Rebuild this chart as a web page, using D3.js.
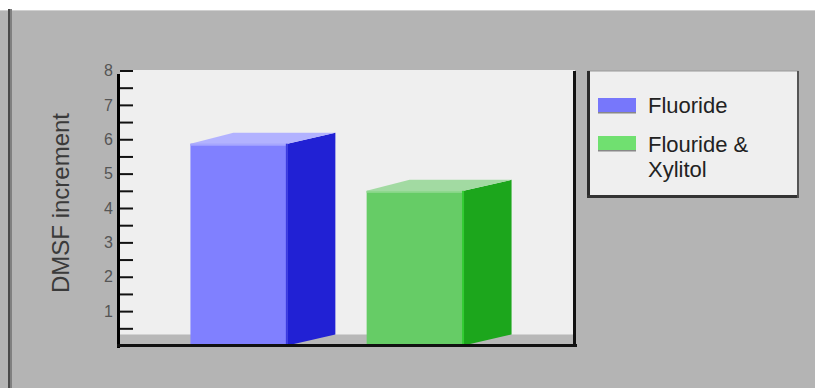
<!DOCTYPE html>
<html><head><meta charset="utf-8">
<script src="https://cdn.jsdelivr.net/npm/d3@7/dist/d3.min.js"></script>
<style>html,body{margin:0;padding:0;background:#fff;overflow:hidden;}svg{display:block;}</style>
</head><body>
<svg id="c" width="815" height="388"></svg>
<script>
const categories = ["Fluoride", "Flouride & Xylitol"];
const values = [5.87, 4.5];
const legendLabels = [["Fluoride"], ["Flouride &", "Xylitol"]];
const tickValues = [0.5,1,1.5,2,2.5,3,3.5,4,4.5,5,5.5,6,6.5,7,7.5,8];
const tickLabels = ["1","2","3","4","5","6","7","8"];
const frontColors = ["#8080ff", "#66cc66"];
const sideColors = ["#2121d4", "#1ca61c"];
const topColors = ["#b2b2ff", "#a2daa2"];
const highlightColors = ["#a6a6ff", "#8fd88f"];
const edgeColors = ["#3a3ae0", "#33cc33"];
const swatchColors = ["#7777fb", "#70e070"];

const svg = d3.select("#c");
const W = 815, H = 388;
const plot = {l: 120, r: 575, t: 70, b: 345};
const depth = {dx: 48, dy: -11, dxL: 43};

// background
svg.append("rect").attr("width", W).attr("height", H).attr("fill", "#b4b4b4");
svg.append("rect").attr("width", W).attr("height", 10).attr("fill", "#ffffff");
svg.append("rect").attr("x", 0).attr("y", 10).attr("width", W).attr("height", 1).attr("fill", "#d0d0d0");
svg.append("rect").attr("x", 8).attr("y", 9).attr("width", 2).attr("height", H).attr("fill", "#4a4a4a");
svg.append("rect").attr("x", 10).attr("y", 9).attr("width", 2).attr("height", H).attr("fill", "#808080");

const y = d3.scaleLinear().domain([0, 8]).range([345.5, 70.5]);
const x = d3.scaleBand().domain(categories).range([127, 527]).paddingInner(0.45).paddingOuter(0.36);

// plot area
svg.append("rect").attr("x", plot.l).attr("y", plot.t).attr("width", plot.r - plot.l).attr("height", plot.b - plot.t).attr("fill", "#efefef");
// floor
svg.append("rect").attr("x", plot.l).attr("y", y(0) + depth.dy).attr("width", plot.r - plot.l).attr("height", -depth.dy).attr("fill", "#b8b8b8");

// bars
const g = svg.append("g");
categories.forEach((c, i) => {
  const x0 = x(c), x1 = x(c) + x.bandwidth();
  const yt = y(values[i]), yb = y(0);
  const line = d3.line();
  g.append("path").attr("d", line([[x1, yt], [x1 + depth.dx, yt + depth.dy], [x1 + depth.dx, yb + depth.dy], [x1, yb]]) + "Z").attr("fill", sideColors[i]);
  g.append("path").attr("d", line([[x0, yt], [x0 + depth.dxL, yt + depth.dy], [x1 + depth.dx, yt + depth.dy], [x1, yt]]) + "Z").attr("fill", topColors[i]);
  g.append("rect").attr("x", x0).attr("y", yt).attr("width", x.bandwidth()).attr("height", yb - yt).attr("fill", frontColors[i]);
  g.append("rect").attr("x", x0).attr("y", yt).attr("width", x.bandwidth()).attr("height", 2).attr("fill", highlightColors[i]);
  g.append("rect").attr("x", x1 - 1.5).attr("y", yt).attr("width", 2).attr("height", yb - yt).attr("fill", edgeColors[i]);
});

// tick lines (inside)
const tickAxis = d3.axisRight(y).tickValues(tickValues).tickSize(13).tickFormat("");
const ta = svg.append("g").attr("transform", `translate(${plot.l},0)`).call(tickAxis);
ta.select(".domain").remove();
ta.selectAll(".tick line").attr("stroke", "#111").attr("stroke-width", 2);

// tick labels
const labelAxis = d3.axisLeft(y).tickValues(tickLabels.map(Number)).tickSize(0).tickPadding(4).tickFormat((d, i) => tickLabels[i]);
const la = svg.append("g").attr("transform", `translate(117,0)`).call(labelAxis);
la.select(".domain").remove();
la.selectAll(".tick text").attr("fill", "#555").style("font-family", "Liberation Sans, Arial, sans-serif").style("font-size", "16px");

// axis lines
svg.append("rect").attr("x", 117).attr("y", 74).attr("width", 3).attr("height", 274).attr("fill", "#000");
svg.append("rect").attr("x", 117).attr("y", 344).attr("width", 460).attr("height", 3).attr("fill", "#111");
svg.append("rect").attr("x", 573).attr("y", 71).attr("width", 3).attr("height", 276).attr("fill", "#111");

// y label
svg.append("text").attr("transform", "translate(69,203) rotate(-90)").attr("text-anchor", "middle")
  .attr("fill", "#3a3a3a").style("font-family", "Liberation Sans, Arial, sans-serif").style("font-size", "24px").text("DMSF increment");

// legend
const lg = svg.append("g");
lg.append("rect").attr("x", 588).attr("y", 71).attr("width", 210).attr("height", 125).attr("fill", "#efefef").attr("stroke", "#9a9a9a").attr("stroke-width", 1);
lg.append("rect").attr("x", 587).attr("y", 71).attr("width", 3).attr("height", 127).attr("fill", "#2a2a2a");
lg.append("rect").attr("x", 587).attr("y", 195).attr("width", 212).attr("height", 3).attr("fill", "#333");
lg.append("rect").attr("x", 797).attr("y", 71).attr("width", 2).attr("height", 127).attr("fill", "#555");
const swY = [98, 136];
const textY = [[113], [152, 177]];
categories.forEach((c, i) => {
  lg.append("rect").attr("x", 598).attr("y", swY[i]).attr("width", 38).attr("height", 15).attr("fill", swatchColors[i]);
  lg.append("rect").attr("x", 598).attr("y", swY[i] + 14).attr("width", 38).attr("height", 1.5).attr("fill", "#888");
  legendLabels[i].forEach((t, j) => {
    lg.append("text").attr("x", 648).attr("y", textY[i][j]).attr("fill", "#222")
      .style("font-family", "Liberation Sans, Arial, sans-serif").style("font-size", "22px").text(t);
  });
});
</script>
</body></html>
